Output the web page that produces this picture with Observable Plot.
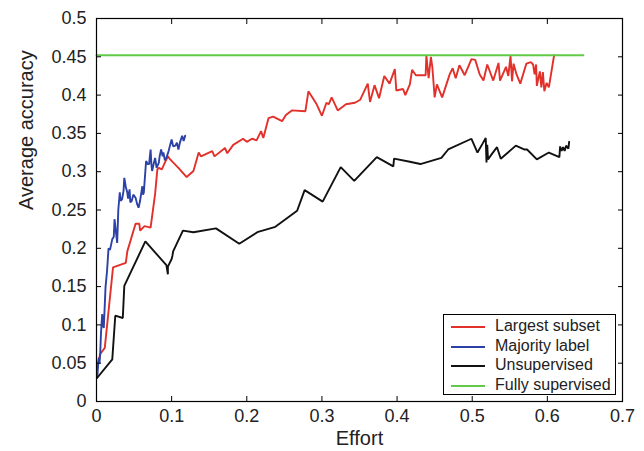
<!DOCTYPE html>
<html><head><meta charset="utf-8">
<script src="https://cdn.jsdelivr.net/npm/d3@7"></script>
<script src="https://cdn.jsdelivr.net/npm/@observablehq/plot@0.6"></script>
<style>
body{margin:0;background:#fff;}
#wrap{position:relative;width:644px;height:451px;font-family:"Liberation Sans",Arial,sans-serif;}
#legend{position:absolute;left:443px;top:314px;width:171px;height:79px;border:1.3px solid #000;background:#fff;}
.row{position:absolute;left:0;height:20px;font-size:16px;line-height:20px;color:#222}
.sw{position:absolute;left:7px;top:10px;width:34px;border-top:2px solid}
.lab{position:absolute;left:51px;top:0;white-space:nowrap}
</style></head>
<body>
<div id="wrap"></div>
<script>
// Series names and colours
const seriesNames = ["Largest subset", "Majority label", "Unsupervised", "Fully supervised"];
const seriesColors = ["#e2302a", "#2c42a6", "#111111", "#62c94a"];

// Largest subset
const largestX = [0.001,0.005,0.011,0.022,0.039,0.041,0.052,0.057,0.058,0.064,0.072,0.078,0.081,0.083,0.087,0.092,0.095,0.098,0.109,0.12,0.129,0.136,0.139,0.154,0.157,0.171,0.174,0.182,0.195,0.2,0.207,0.213,0.219,0.222,0.229,0.235,0.247,0.252,0.26,0.278,0.282,0.293,0.3,0.306,0.309,0.313,0.321,0.332,0.344,0.351,0.361,0.364,0.37,0.376,0.383,0.39,0.397,0.399,0.408,0.411,0.417,0.42,0.425,0.438,0.439,0.442,0.445,0.447,0.45,0.453,0.46,0.47,0.474,0.478,0.483,0.49,0.499,0.504,0.51,0.515,0.52,0.528,0.535,0.537,0.545,0.548,0.551,0.553,0.555,0.559,0.564,0.572,0.578,0.581,0.583,0.585,0.586,0.59,0.592,0.594,0.596,0.599,0.602,0.609];
const largestY = [0.046,0.062,0.07,0.175,0.181,0.196,0.232,0.232,0.223,0.229,0.227,0.271,0.303,0.305,0.303,0.314,0.32,0.316,0.305,0.293,0.301,0.325,0.32,0.327,0.32,0.331,0.324,0.335,0.343,0.339,0.343,0.341,0.353,0.344,0.37,0.372,0.366,0.374,0.38,0.379,0.405,0.388,0.373,0.39,0.388,0.397,0.38,0.388,0.39,0.394,0.415,0.391,0.413,0.396,0.425,0.415,0.434,0.406,0.408,0.4,0.414,0.433,0.426,0.426,0.452,0.422,0.45,0.436,0.397,0.414,0.397,0.427,0.435,0.422,0.439,0.426,0.447,0.446,0.427,0.419,0.44,0.419,0.442,0.419,0.437,0.425,0.451,0.418,0.441,0.427,0.415,0.441,0.443,0.44,0.427,0.44,0.412,0.431,0.41,0.43,0.405,0.416,0.41,0.452];

// Majority label
const majorityX = [0.001,0.002,0.003,0.004,0.005,0.006,0.0076,0.0085,0.0097,0.012,0.014,0.016,0.018,0.021,0.023,0.024,0.026,0.0275,0.029,0.031,0.032,0.034,0.036,0.037,0.039,0.041,0.042,0.044,0.045,0.047,0.049,0.052,0.054,0.056,0.058,0.061,0.062,0.063,0.066,0.068,0.07,0.072,0.073,0.074,0.076,0.078,0.08,0.083,0.084,0.086,0.088,0.089,0.091,0.093,0.096,0.098,0.1,0.102,0.105,0.107,0.109,0.111,0.114,0.116,0.118];
const majorityY = [0.031,0.045,0.057,0.05,0.064,0.09,0.114,0.1,0.096,0.149,0.17,0.2,0.198,0.212,0.215,0.238,0.22,0.207,0.25,0.273,0.262,0.264,0.275,0.292,0.28,0.273,0.265,0.277,0.26,0.262,0.27,0.266,0.258,0.253,0.262,0.281,0.27,0.273,0.314,0.31,0.31,0.329,0.31,0.301,0.31,0.318,0.305,0.312,0.32,0.329,0.32,0.325,0.315,0.318,0.327,0.335,0.342,0.333,0.334,0.338,0.329,0.338,0.347,0.34,0.347];

// Unsupervised
const unsupX = [0.001,0.021,0.025,0.035,0.037,0.065,0.093,0.095,0.095,0.1,0.101,0.102,0.115,0.129,0.159,0.19,0.214,0.238,0.267,0.277,0.301,0.325,0.343,0.373,0.395,0.396,0.417,0.431,0.459,0.468,0.499,0.507,0.514,0.518,0.519,0.52,0.521,0.526,0.533,0.538,0.558,0.569,0.573,0.586,0.602,0.616,0.617,0.619,0.621,0.623,0.625,0.628,0.629];
const unsupY = [0.031,0.055,0.112,0.109,0.151,0.209,0.178,0.166,0.176,0.186,0.19,0.196,0.223,0.221,0.226,0.206,0.221,0.228,0.249,0.276,0.261,0.306,0.288,0.319,0.307,0.317,0.313,0.31,0.318,0.329,0.343,0.325,0.337,0.344,0.312,0.335,0.316,0.323,0.332,0.317,0.334,0.329,0.329,0.316,0.325,0.319,0.333,0.327,0.332,0.327,0.334,0.33,0.339];

// Fully supervised
const fullX = [0, 0.648];
const fullY = [0.452, 0.452];

// Ticks
const xTicks = [0,0.1,0.2,0.3,0.4,0.5,0.6,0.7];
const yTicks = [0,0.05,0.1,0.15,0.2,0.25,0.3,0.35,0.4,0.45,0.5];

const toRows = (xs, ys, s) => xs.map((x, i) => ({x, y: ys[i], series: s}));
const seriesData = [
  toRows(largestX, largestY, seriesNames[0]),
  toRows(majorityX, majorityY, seriesNames[1]),
  toRows(unsupX, unsupY, seriesNames[2]),
  toRows(fullX, fullY, seriesNames[3])
];
const fmt = d => String(+d.toFixed(2));
const blank = () => "";

const chart = Plot.plot({
  width: 644, height: 451,
  marginLeft: 96, marginRight: 22, marginTop: 18, marginBottom: 50,
  style: {fontFamily: '"Liberation Sans", Arial, sans-serif', fontSize: "18px", color: "#222", background: "#fff"},
  x: {domain: [0, 0.7]},
  y: {domain: [0, 0.5]},
  color: {domain: seriesNames, range: seriesColors},
  marks: [
    ...seriesData.map(d => Plot.line(d, {x: "x", y: "y", stroke: "series", strokeWidth: 1.9, strokeLinejoin: "miter"})),
    Plot.frame({stroke: "#000", strokeWidth: 1.2}),
    Plot.axisX({anchor: "bottom", ticks: xTicks, tickFormat: fmt, tickSize: -5, tickPadding: 13, label: null, stroke: "#000"}),
    Plot.axisX({anchor: "top", ticks: xTicks, tickFormat: blank, tickSize: -5, label: null, stroke: "#000"}),
    Plot.axisY({anchor: "left", ticks: yTicks, tickFormat: fmt, tickSize: -5, tickPadding: 15, label: null, stroke: "#000"}),
    Plot.axisY({anchor: "right", ticks: yTicks, tickFormat: blank, tickSize: -5, label: null, stroke: "#000"}),
    Plot.text(["Effort"], {frameAnchor: "bottom", lineAnchor: "middle", dy: 37, fontSize: 20, fill: "#222"}),
    Plot.text(["Average accuracy"], {frameAnchor: "left", rotate: -90, dx: -70, fontSize: 20, fill: "#222"})
  ]
});

const wrap = document.getElementById("wrap");
wrap.appendChild(chart);

// Legend
const legend = document.createElement("div");
legend.id = "legend";
seriesNames.forEach((name, i) => {
  const row = document.createElement("div");
  row.className = "row";
  row.style.top = (1 + i * 19.6) + "px";
  row.style.width = "100%";
  const sw = document.createElement("span");
  sw.className = "sw";
  sw.style.borderTopColor = seriesColors[i];
  const lab = document.createElement("span");
  lab.className = "lab";
  lab.textContent = name;
  row.appendChild(sw); row.appendChild(lab);
  legend.appendChild(row);
});
wrap.appendChild(legend);
</script>
</body></html>
